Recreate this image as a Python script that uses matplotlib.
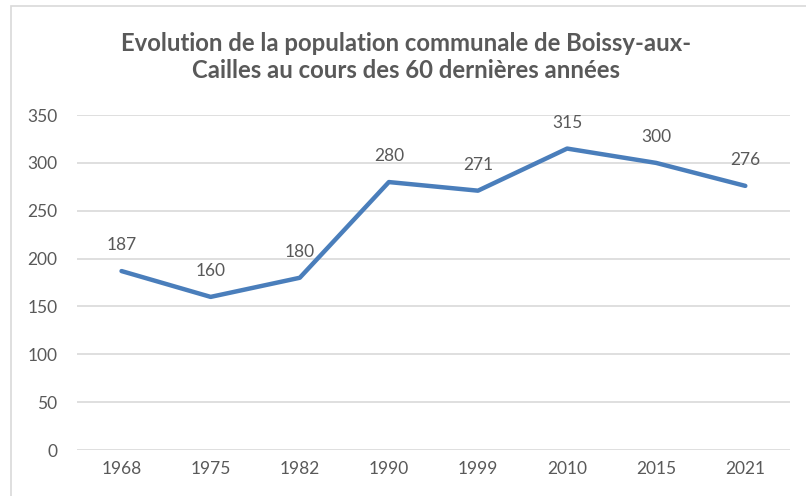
import matplotlib.pyplot as plt
from matplotlib.patches import Rectangle

# Data
years = ['1968', '1975', '1982', '1990', '1999', '2010', '2015', '2021']
population = [187, 160, 180, 280, 271, 315, 300, 276]

title = "Evolution de la population communale de Boissy-aux-\nCailles au cours des 60 dernières années"

text_color = '#595959'
line_color = '#4A7EBB'
grid_color = '#D9D9D9'

plt.rcParams['font.family'] = ['Lato', 'DejaVu Sans']

fig = plt.figure(figsize=(8.06, 4.96), dpi=100)
ax = fig.add_axes([0.0955, 0.0927, 0.8845, 0.6753])

# Outer chart border (right and bottom are cropped in the reference)
fig.patches.append(Rectangle((11 / 806, -0.05), 1.1, 1 - 6 / 496 + 0.05,
                             transform=fig.transFigure, fill=False,
                             edgecolor=grid_color, linewidth=1.2))

x = range(len(years))
ax.plot(x, population, color=line_color, linewidth=3.2, solid_capstyle='round',
        solid_joinstyle='round', zorder=3)

for xi, v in zip(x, population):
    ax.annotate(str(v), (xi, v), xytext=(0, 13), textcoords='offset points',
                ha='center', va='bottom', fontsize=12.5, color=text_color)

ax.set_xlim(-0.5, len(years) - 0.5)
ax.set_ylim(0, 350)
ax.set_yticks(range(0, 351, 50))
ax.set_xticks(list(x))
ax.set_xticklabels(years)
ax.yaxis.grid(True, color=grid_color, linewidth=1.2)
ax.set_axisbelow(True)
for s in ax.spines.values():
    s.set_visible(False)
ax.tick_params(length=0, colors=text_color, labelsize=12.5)
ax.tick_params(axis='y', pad=14)
ax.tick_params(axis='x', pad=8)

fig.text(406 / 806, 1 - 57 / 496, title, ha='center', va='center',
         fontsize=17.2, fontweight='bold', color=text_color, linespacing=1.25)

fig.savefig('out.png', dpi=100)
